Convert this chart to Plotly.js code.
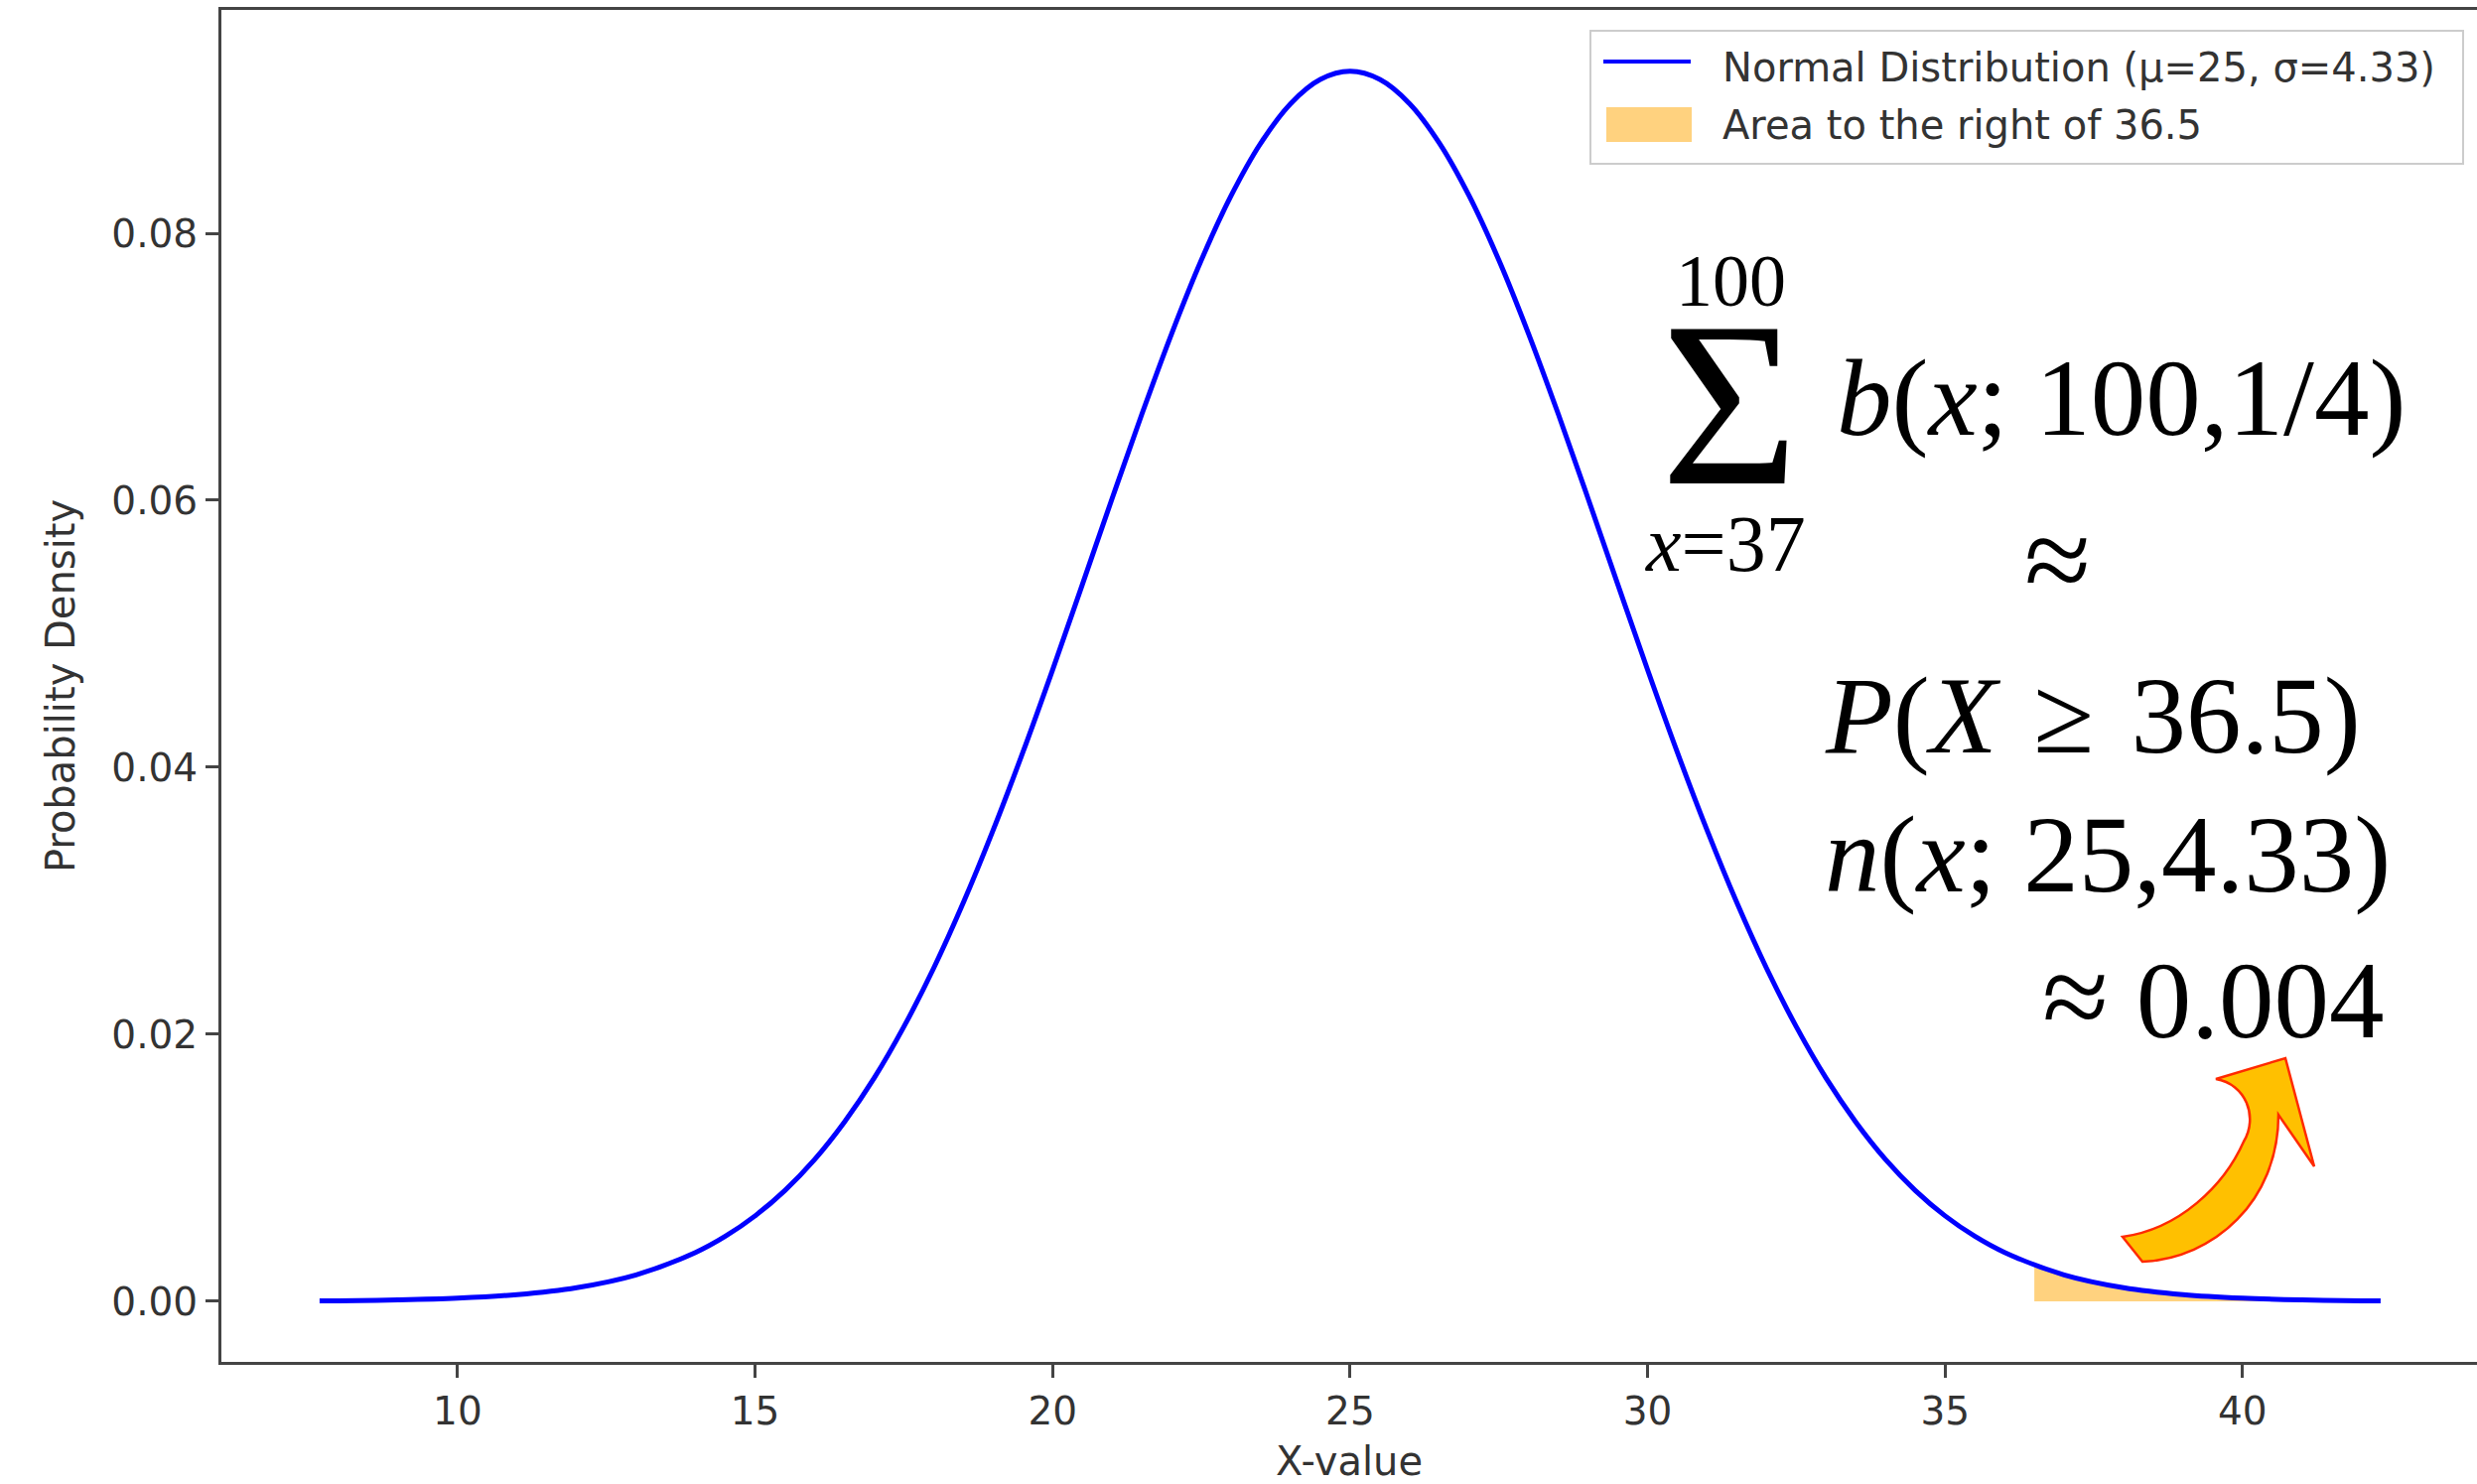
<!DOCTYPE html>
<html>
<head>
<meta charset="utf-8">
<script src="https://cdn.plot.ly/plotly-3.0.1.min.js"></script>
<style>html,body{margin:0;padding:0;background:#fff;}</style>
</head>
<body>
<div id="chart" style="width:2495px;height:1495px;"></div>
<script>
// Values
const xValues = [7.68, 8, 9, 10, 11, 12, 13, 14, 14.5, 15, 15.5, 16, 16.5, 17, 17.5, 18, 18.5, 19, 19.5,
                 20, 20.5, 21, 21.5, 22, 22.5, 23, 23.5, 24, 24.5, 25, 25.5, 26, 26.5, 27, 27.5, 28, 28.5,
                 29, 29.5, 30, 30.5, 31, 31.5, 32, 32.5, 33, 33.5, 34, 34.5, 35, 35.5, 36, 37, 38, 39, 40,
                 41, 42, 42.32];
const densityValues = [0.00003, 0.00004, 0.0001, 0.00023, 0.0005, 0.00102, 0.00198, 0.00366, 0.00487,
                       0.0064, 0.0083, 0.01062, 0.01342, 0.01671, 0.02056, 0.02494, 0.02986, 0.03528, 0.04112,
                       0.0473, 0.05369, 0.06013, 0.06645, 0.07247, 0.07799, 0.08281, 0.08676, 0.08971, 0.09152,
                       0.09213, 0.09152, 0.08971, 0.08676, 0.08281, 0.07799, 0.07247, 0.06645, 0.06013, 0.05369,
                       0.0473, 0.04112, 0.03528, 0.02986, 0.02494, 0.02056, 0.01671, 0.01342, 0.01062, 0.0083,
                       0.0064, 0.00487, 0.00366, 0.00198, 0.00102, 0.0005, 0.00023, 0.0001, 0.00004, 0.00003];
const tailX = [36.5, 37, 38, 39, 40, 41, 42, 42.32];
const tailY = [0.00271, 0.00198, 0.00102, 0.0005, 0.00023, 0.0001, 0.00004, 0.00003];
const lineName = "Normal Distribution (μ=25, σ=4.33)";
const areaName = "Area to the right of 36.5";
const xTickVals = [10, 15, 20, 25, 30, 35, 40];
const yTickVals = [0, 0.02, 0.04, 0.06, 0.08];
const yTickText = ["0.00", "0.02", "0.04", "0.06", "0.08"];
const xTitle = "X-value";
const yTitle = "Probability Density";
const mathLines = {
  upper: "100",
  sigma: "\u03A3",
  lower: "<i>x</i>=37",
  line1: "<i>b</i>(<i>x</i>; 100,1/4)",
  line2: "\u2248",
  line3: "<i>P</i>(<i>X</i>\u2004\u2265\u200436.5)",
  line4: "<i>n</i>(<i>x</i>; 25,4.33)",
  line5: "<span style=\"font-size:122px\">\u2248</span> 0.004"
};

// layout geometry (pixels)
const L = 223, T = 10, W = 2272, H = 1362;
const px = v => (v - L) / W;
const py = v => (T + H - v) / H;

const sansFont = "DejaVu Sans";
const serifFont = "Liberation Serif";
const axisColor = "#444";
const textColor = "#333";

const traces = [
  {
    x: tailX, y: tailY, type: "scatter", mode: "lines",
    fill: "tozeroy", fillcolor: "rgba(255,165,0,0.5)",
    line: {width: 0, shape: "spline"}, name: areaName, showlegend: false, hoverinfo: "skip"
  },
  {
    x: xValues, y: densityValues, type: "scatter", mode: "lines",
    line: {color: "#0000ff", width: 5, shape: "spline"}, name: lineName, showlegend: false
  }
];

function pathFrom(points) {
  return points.map(p => {
    if (typeof p === "string") return p;
    return px(p[0]).toFixed(5) + "," + py(p[1]).toFixed(5);
  }).join(" ");
}

const arrowPath = pathFrom([
  "M", [2138, 1246], "L", [2158, 1271],
  "C", [2230, 1268], [2295, 1210], [2295, 1123],
  "L", [2331, 1175], "L", [2302, 1066], "L", [2232, 1087],
  "C", [2262, 1092], [2275, 1125], [2260, 1150],
  "C", [2240, 1195], [2195, 1238], [2138, 1246], "Z"
]);

const shapes = [
  {type: "rect", xref: "paper", yref: "paper", x0: px(1602), x1: px(2481), y0: py(165), y1: py(31),
   line: {color: "#cccccc", width: 2}, fillcolor: "rgba(255,255,255,0.8)"},
  {type: "line", xref: "paper", yref: "paper", x0: px(1615), x1: px(1703), y0: py(62), y1: py(62),
   line: {color: "#0000ff", width: 4}},
  {type: "rect", xref: "paper", yref: "paper", x0: px(1618), x1: px(1704), y0: py(143), y1: py(108),
   line: {width: 0}, fillcolor: "rgba(255,165,0,0.5)"},
  {type: "path", xref: "paper", yref: "paper", path: arrowPath,
   fillcolor: "#ffc000", line: {color: "#ff2a00", width: 2.5}}
];

function ann(text, x, y, size, xanchor, family, color, boxHeight) {
  const a = {text: text, xref: "paper", yref: "paper", x: px(x), y: py(y), showarrow: false,
          xanchor: xanchor || "center", yanchor: "middle",
          font: {family: family || serifFont, size: size, color: color || "#000"}};
  if (boxHeight) { a.height = boxHeight; a.valign = "middle"; }
  return a;
}

const annotations = [
  ann(lineName, 1733, 68, 40, "left", sansFont, textColor),
  ann(areaName, 1733, 126, 40, "left", sansFont, textColor),
  ann(mathLines.upper, 1743, 283, 74, "center", serifFont, "#000", 68),
  ann(mathLines.sigma, 1742, 406, 238, "center", serifFont, "#000", 172),
  ann(mathLines.lower, 1738, 548, 80),
  ann(mathLines.line1, 1848, 400, 111, "left"),
  ann(mathLines.line2, 2072, 563, 122),
  ann(mathLines.line3, 1836, 721, 111, "left"),
  ann(mathLines.line4, 1836, 860, 111, "left"),
  ann(mathLines.line5, 2403, 1003, 111, "right")
];

const layout = {
  width: 2495, height: 1495,
  margin: {l: L, r: 0, t: T, b: 1495 - T - H, pad: 0},
  paper_bgcolor: "#ffffff", plot_bgcolor: "#ffffff",
  showlegend: false,
  xaxis: {
    range: [6.03, 43.94], tickmode: "array", tickvals: xTickVals,
    showgrid: false, zeroline: false, showline: true, mirror: true,
    linecolor: axisColor, linewidth: 3,
    ticks: "outside", ticklen: 13, tickwidth: 3, tickcolor: axisColor,
    tickfont: {family: sansFont, size: 39, color: textColor},
    title: {text: xTitle, font: {family: sansFont, size: 40, color: textColor}, standoff: 25}
  },
  yaxis: {
    range: [-0.00454, 0.09673], tickmode: "array", tickvals: yTickVals, ticktext: yTickText,
    showgrid: false, zeroline: false, showline: true, mirror: false,
    linecolor: axisColor, linewidth: 3,
    ticks: "outside", ticklen: 13, tickwidth: 3, tickcolor: axisColor,
    tickfont: {family: sansFont, size: 39, color: textColor},
    title: {text: yTitle, font: {family: sansFont, size: 40, color: textColor}, standoff: 25}
  },
  shapes: shapes,
  annotations: annotations
};

Plotly.newPlot("chart", traces, layout, {displayModeBar: false, staticPlot: true});
</script>
</body>
</html>
